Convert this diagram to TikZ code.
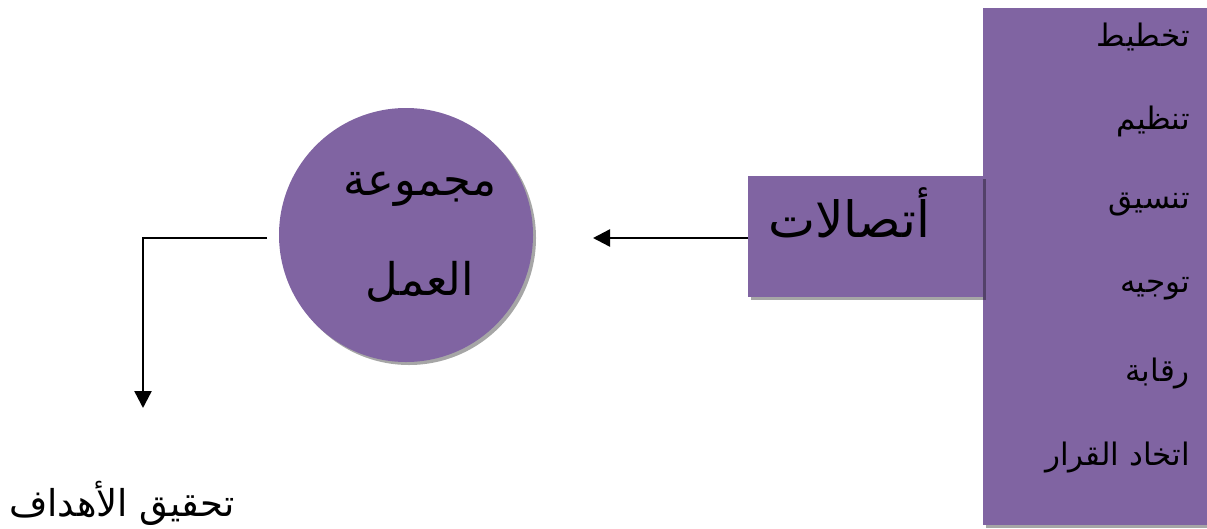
\documentclass[tikz,border=0pt]{standalone}
\usepackage{fontspec}
\usetikzlibrary{arrows.meta, shadows}
\newfontfamily\arabicfont[Script=Arabic]{DejaVu Sans}
\TeXXeTstate=1
\definecolor{grpurple}{HTML}{8064A2}

\begin{document}
\begin{tikzpicture}[x=1pt, y=-1pt,
    pbox/.style={fill=grpurple, inner sep=0pt, outer sep=0pt,
      drop shadow={shadow xshift=3pt, shadow yshift=-3pt, fill=black, opacity=.35}},
    itemtxt/.style={anchor=east, inner sep=0pt, font=\arabicfont\fontsize{31}{36}\selectfont},
    arr/.style={-{Triangle[length=17pt, width=17pt]}, line width=2.4pt}]
    \useasboundingbox (0,0) rectangle (1207,528);
    % tall box with the tasks
    \node[pbox, minimum width=232pt, minimum height=517pt, anchor=north west] (tasks) at (983,8) {};
    \node[itemtxt] (plan) at (1190,37) {\beginR تخطيط\endR};
    \node[itemtxt] (organise) at (1190,121) {\beginR تنظيم\endR};
    \node[itemtxt] (coord) at (1190,205) {\beginR تنسيق\endR};
    \node[itemtxt] (direct) at (1190,289) {\beginR توجيه\endR};
    \node[itemtxt] (control) at (1190,373) {\beginR رقابة\endR};
    \node[itemtxt] (decide) at (1190,457) {\beginR اتخاد القرار\endR};
    % communications
    \node[pbox, minimum width=235pt, minimum height=121pt, anchor=north west] (comm) at (748,176) {};
    \node[font=\arabicfont\fontsize{50}{54}\selectfont] (commlbl) at (849,213) {\beginR أتصالات\endR};
    \coordinate (commtip) at (593,238);
    \draw[arr] ([yshift=-1.5pt]comm.west) -- (commtip);
    % work group
    \node[pbox, circle, minimum size=254pt] (group) at (406,235) {};
    \node[align=center, font=\arabicfont\fontsize{45}{100}\selectfont] (grouplbl) at (420,237)
      {\beginR مجموعة\endR\\\beginR العمل\endR};
    % goals
    \node[font=\arabicfont\fontsize{37}{40}\selectfont] (goals) at (122,503) {\beginR تحقيق الأهداف\endR};
    \coordinate (goaltip) at (143,408);
    \draw[arr] ([xshift=-12pt, yshift=-3pt]group.west) -| (goaltip);
\end{tikzpicture}
\end{document}
